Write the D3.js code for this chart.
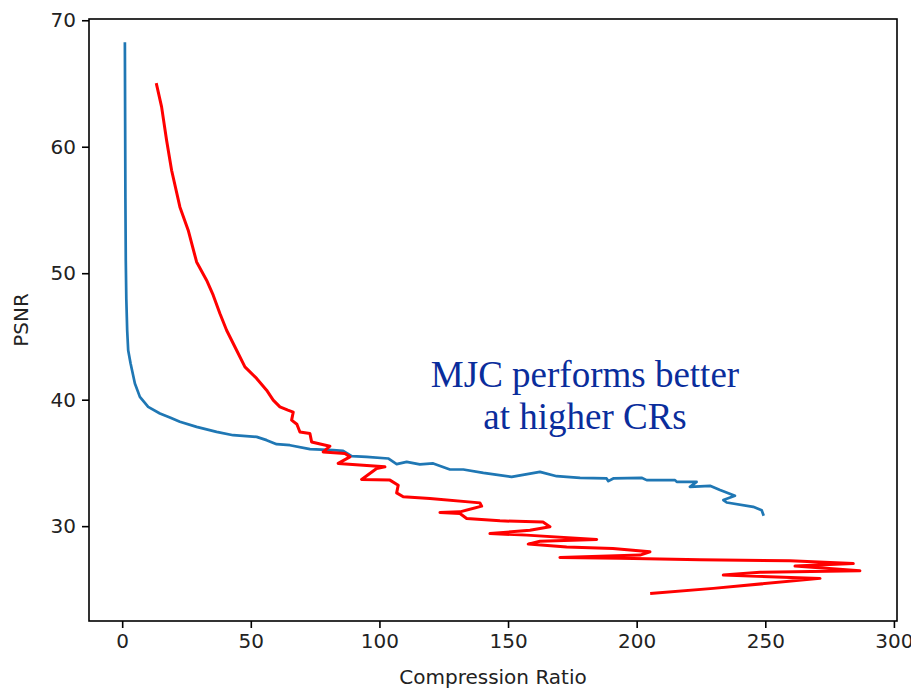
<!DOCTYPE html>
<html>
<head>
<meta charset="utf-8">
<script src="https://cdn.jsdelivr.net/npm/d3@7"></script>
<style>
  html, body { margin: 0; padding: 0; background: #fff; }
  svg { display: block; }
</style>
</head>
<body>
<svg id="chart" width="911" height="691"></svg>
<script>
// ---- data ----
const xTicks = [0, 50, 100, 150, 200, 250, 300];
const yTicks = [30, 40, 50, 60, 70];
const xLabel = "Compression Ratio";
const yLabel = "PSNR";
const noteLines = ["MJC performs better", "at higher CRs"];

const blueCR = [1.05, 1.15, 1.25, 1.4, 1.6, 1.94, 2.33, 3.27, 4.94, 6.88, 10.11, 14.66, 18.55, 22.43, 28.93, 36.70, 43.16, 52.26, 56.14, 60.03, 65.2, 73.0, 82.0, 85.9, 89.2, 95.0, 103.4, 106.7, 110.6, 115.7, 120.9, 127.4, 132.6, 140.4, 151.4, 162.4, 168.9, 178.0, 188.3, 189.0, 190.9, 201.9, 203.9, 214.9, 215.6, 223.3, 220.7, 228.5, 232.4, 238.2, 233.7, 235.0, 245.3, 248.6, 249.2];
const bluePSNR = [68.16, 62.0, 56.0, 51.0, 48.0, 45.49, 43.91, 42.86, 41.28, 40.22, 39.43, 38.91, 38.59, 38.25, 37.85, 37.45, 37.19, 37.06, 36.80, 36.48, 36.40, 36.09, 36.01, 35.95, 35.53, 35.48, 35.35, 34.90, 35.08, 34.88, 34.96, 34.48, 34.48, 34.21, 33.90, 34.29, 33.95, 33.82, 33.77, 33.56, 33.77, 33.82, 33.64, 33.64, 33.50, 33.50, 33.11, 33.19, 32.85, 32.40, 32.06, 31.87, 31.53, 31.26, 30.92];

const redCR = [13.37, 15.32, 17.26, 19.21, 22.43, 25.66, 28.93, 32.81, 35.38, 37.99, 40.59, 44.48, 47.71, 52.26, 56.14, 58.71, 61.31, 64.42, 66.49, 65.86, 67.92, 69.09, 72.98, 73.64, 80.75, 78.15, 86.59, 88.53, 83.98, 93.70, 102.14, 98.91, 93.08, 104.08, 107.31, 106.69, 109.25, 119.63, 139.07, 139.74, 131.30, 123.52, 131.30, 133.90, 146.85, 163.57, 166.29, 158.51, 142.96, 157.23, 184.45, 162.40, 157.85, 172.78, 190.78, 205.17, 201.28, 170.17, 193.51, 224.61, 259.60, 284.21, 261.55, 286.78, 247.94, 233.67, 271.27, 229.78, 205.83];
const redPSNR = [64.92, 63.15, 60.51, 58.14, 55.24, 53.40, 50.89, 49.45, 48.26, 46.81, 45.49, 43.91, 42.59, 41.68, 40.75, 39.96, 39.43, 39.17, 39.01, 38.38, 38.06, 37.45, 37.33, 36.66, 36.32, 35.87, 35.75, 35.48, 34.96, 34.82, 34.69, 34.56, 33.69, 33.64, 33.24, 32.63, 32.32, 32.19, 31.84, 31.58, 31.13, 31.08, 31.00, 30.61, 30.42, 30.32, 29.96, 29.68, 29.41, 29.29, 28.95, 28.81, 28.58, 28.36, 28.24, 27.97, 27.71, 27.53, 27.47, 27.35, 27.26, 27.04, 26.84, 26.47, 26.36, 26.13, 25.87, 25.08, 24.68];

// ---- layout ----
const mLeft = 89, mRight = 897, mTop = 19, mBottom = 621;
const svg = d3.select("#chart");

const x = d3.scaleLinear().domain([-12.9, 301.2]).range([mLeft, mRight]);
const y = d3.scaleLinear().domain([22.5, 70.1]).range([mBottom, mTop]);

const tickFont = "'DejaVu Sans', sans-serif";

// curves
const blue = blueCR.map((v, i) => [v, bluePSNR[i]]);
const red = redCR.map((v, i) => [v, redPSNR[i]]);
const line = d3.line().x(d => x(d[0])).y(d => y(d[1]));

const plot = svg.append("g");
plot.append("path").datum(blue)
  .attr("d", line).attr("fill", "none")
  .attr("stroke", "#1f77b4").attr("stroke-width", 2.7)
  .attr("stroke-linejoin", "round").attr("stroke-linecap", "square");
plot.append("path").datum(red)
  .attr("d", line).attr("fill", "none")
  .attr("stroke", "#ff0000").attr("stroke-width", 3)
  .attr("stroke-linejoin", "round").attr("stroke-linecap", "square");

// axes
const xAxis = d3.axisBottom(x).tickValues(xTicks).tickSize(7).tickPadding(6).tickFormat(d3.format("d"));
const yAxis = d3.axisLeft(y).tickValues(yTicks).tickSize(7).tickPadding(6).tickFormat(d3.format("d"));

const gx = svg.append("g").attr("transform", `translate(0,${mBottom})`).call(xAxis);
const gy = svg.append("g").attr("transform", `translate(${mLeft},0)`).call(yAxis);
[gx, gy].forEach(g => {
  g.select(".domain").remove();
  g.selectAll(".tick line").attr("stroke", "#000").attr("stroke-width", 1.6);
  g.selectAll(".tick text").attr("fill", "#222").style("font-family", tickFont).style("font-size", "20px");
});

// frame
svg.append("rect")
  .attr("x", mLeft).attr("y", mTop)
  .attr("width", mRight - mLeft).attr("height", mBottom - mTop)
  .attr("fill", "none").attr("stroke", "#000").attr("stroke-width", 1.6);

// axis labels
svg.append("text")
  .attr("x", (mLeft + mRight) / 2).attr("y", 684)
  .attr("text-anchor", "middle")
  .style("font-family", tickFont).style("font-size", "20px").attr("fill", "#222")
  .text(xLabel);
svg.append("text")
  .attr("transform", `translate(28,${(mTop + mBottom) / 2}) rotate(-90)`)
  .attr("text-anchor", "middle")
  .style("font-family", tickFont).style("font-size", "20px").attr("fill", "#222")
  .text(yLabel);

// annotation
const note = svg.append("text")
  .attr("text-anchor", "middle")
  .style("font-family", "'Liberation Serif', 'Times New Roman', serif")
  .style("font-size", "37px").attr("fill", "#0a2d9c");
noteLines.forEach((t, i) => {
  note.append("tspan").attr("x", 585).attr("y", 387 + i * 41.5).text(t);
});
</script>
</body>
</html>
